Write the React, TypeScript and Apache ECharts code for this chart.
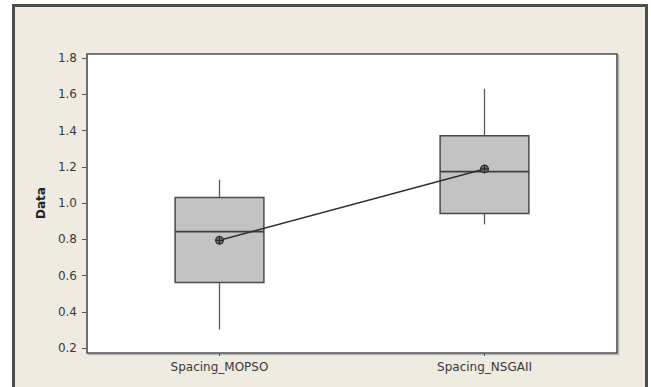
import React, { useEffect, useRef } from "react";
import * as echarts from "echarts";

const categories = ["Spacing_MOPSO", "Spacing_NSGAII"];
// [whiskerLow, Q1, median, Q3, whiskerHigh]
const boxStats = [
  [0.302, 0.562, 0.842, 1.03, 1.129],
  [0.882, 0.942, 1.173, 1.371, 1.63],
];
const means = [0.794, 1.188];
const yTicks = { min: 0.2, max: 1.8, interval: 0.2 };

const FONT = "DejaVu Sans";

export default function App() {
  const ref = useRef<HTMLDivElement>(null);
  useEffect(() => {
    if (!ref.current) return;
    const chart = echarts.init(ref.current, null, { renderer: "svg" });
    const boxData = boxStats.map((s, i) => [i, ...s]);
    chart.setOption({
      animation: false,
      backgroundColor: "#ffffff",
      graphic: [
        {
          type: "rect",
          z: -10,
          shape: { x: 13.5, y: 5.5, width: 633, height: 420 },
          style: { fill: "#efebe1", stroke: "#4d4d4d", lineWidth: 3 },
        },
        {
          type: "rect",
          z: -9,
          shape: { x: 88.5, y: 55.5, width: 530, height: 299 },
          style: { fill: "none", stroke: "#b8b8b8", lineWidth: 1.5 },
        },
        {
          type: "rect",
          z: -8,
          shape: { x: 87, y: 54, width: 530, height: 299 },
          style: { fill: "#ffffff", stroke: "#4f4f4f", lineWidth: 1.6 },
        },
      ],
      grid: { left: 87, right: 34, top: 58, bottom: 39 },
      xAxis: {
        type: "category",
        data: categories,
        offset: 5,
        axisLine: { show: false },
        axisTick: { show: true, alignWithLabel: true, length: 3, lineStyle: { color: "#555" } },
        axisLabel: { fontFamily: FONT, fontSize: 12, color: "#3a3a3a", margin: 8 },
        splitLine: { show: false },
      },
      yAxis: {
        type: "value",
        min: yTicks.min,
        max: yTicks.max,
        interval: yTicks.interval,
        name: "Data",
        nameLocation: "middle",
        nameGap: 40,
        nameTextStyle: { fontFamily: FONT, fontSize: 12, fontWeight: "bold", color: "#222" },
        axisLine: { show: false },
        axisTick: { show: true, length: 5, lineStyle: { color: "#555" } },
        axisLabel: {
          fontFamily: FONT,
          fontSize: 12,
          color: "#3a3a3a",
          margin: 10,
          formatter: (v: number) => v.toFixed(1),
        },
        splitLine: { show: false },
      },
      series: [
        {
          type: "custom",
          z: 2,
          data: boxData,
          encode: { x: 0, y: [1, 2, 3, 4, 5] },
          renderItem: (params: any, api: any) => {
            const idx = api.value(0);
            const band = api.size([1, 0])[0];
            const w = band * 0.335;
            const pLow = api.coord([idx, api.value(1)]);
            const pQ1 = api.coord([idx, api.value(2)]);
            const pMed = api.coord([idx, api.value(3)]);
            const pQ3 = api.coord([idx, api.value(4)]);
            const pHigh = api.coord([idx, api.value(5)]);
            const cx = pQ1[0];
            const lineStyle = { stroke: "#5a5a5a", lineWidth: 1.3 };
            return {
              type: "group",
              children: [
                { type: "line", shape: { x1: cx, y1: pLow[1], x2: cx, y2: pQ1[1] }, style: lineStyle },
                { type: "line", shape: { x1: cx, y1: pQ3[1], x2: cx, y2: pHigh[1] }, style: lineStyle },
                {
                  type: "rect",
                  shape: { x: cx - w / 2, y: pQ3[1], width: w, height: pQ1[1] - pQ3[1] },
                  style: { fill: "#c3c3c3", stroke: "#4a4a4a", lineWidth: 1.5 },
                },
                {
                  type: "line",
                  shape: { x1: cx - w / 2, y1: pMed[1], x2: cx + w / 2, y2: pMed[1] },
                  style: { stroke: "#3f3f3f", lineWidth: 1.6 },
                },
              ],
            };
          },
        },
        {
          type: "line",
          z: 5,
          data: means,
          symbol: "path://M0,-4A4,4 0 1 1 0,4A4,4 0 1 1 0,-4ZM-4,0L4,0M0,-4L0,4",
          symbolSize: 8,
          lineStyle: { color: "#2e2e2e", width: 1.5 },
          itemStyle: { color: "#6a6a6a", borderColor: "#222", borderWidth: 1 },
        },
      ],
    });
    return () => chart.dispose();
  }, []);
  return (
    <div
      ref={ref}
      style={{ position: "absolute", left: 0, top: 0, width: 651, height: 387 }}
    />
  );
}
